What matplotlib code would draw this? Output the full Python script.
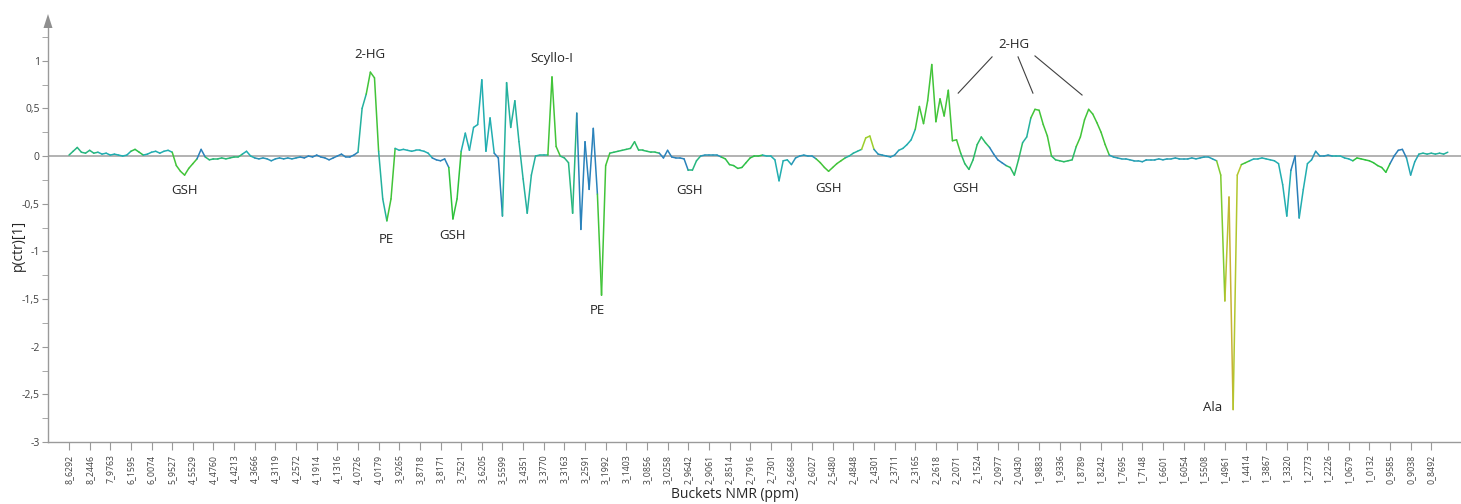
import numpy as np
import matplotlib
matplotlib.use("Agg")
import matplotlib.pyplot as plt
from matplotlib.collections import LineCollection
from matplotlib.colors import LinearSegmentedColormap
from matplotlib.patches import Polygon

plt.rcParams['font.family'] = ['Open Sans', 'DejaVu Sans']

# Bucket labels (ppm) shown every 5th plotted bucket
tick_labels = [
    "8_6292", "8_2446", "7_9763", "6_1595", "6_0074", "5_9527", "4_5529", "4_4760",
    "4_4213", "4_3666", "4_3119", "4_2572", "4_1914", "4_1316", "4_0726", "4_0179",
    "3_9265", "3_8718", "3_8171", "3_7521", "3_6205", "3_5599", "3_4351", "3_3770",
    "3_3163", "3_2591", "3_1992", "3_1403", "3_0856", "3_0258", "2_9642", "2_9061",
    "2_8514", "2_7916", "2_7301", "2_6668", "2_6027", "2_5480", "2_4848", "2_4301",
    "2_3711", "2_3165", "2_2618", "2_2071", "2_1524", "2_0977", "2_0430", "1_9883",
    "1_9336", "1_8789", "1_8242", "1_7695", "1_7148", "1_6601", "1_6054", "1_5508",
    "1_4961", "1_4414", "1_3867", "1_3320", "1_2773", "1_2226", "1_0679", "1_0132",
    "0_9585", "0_9038", "0_8492",
]
tick_step = 5

# Loading p(ctr)[1] for each plotted bucket
loading = [
    0.01, 0.05, 0.09, 0.04, 0.03, 0.06, 0.03, 0.04, 0.02, 0.03,
    0.01, 0.02, 0.01, 0.00, 0.01, 0.05, 0.07, 0.04, 0.01, 0.02,
    0.04, 0.05, 0.03, 0.05, 0.06, 0.04, -0.10, -0.16, -0.20, -0.13,
    -0.08, -0.03, 0.07, -0.01, -0.04, -0.03, -0.03, -0.02, -0.03, -0.02,
    -0.01, -0.01, 0.02, 0.05, 0.00, -0.02, -0.03, -0.02, -0.03, -0.05,
    -0.03, -0.02, -0.03, -0.02, -0.03, -0.02, -0.01, -0.02, 0.00, -0.01,
    0.01, -0.01, -0.02, -0.04, -0.02, 0.00, 0.02, -0.01, -0.01, 0.01,
    0.04, 0.50, 0.65, 0.88, 0.82, 0.05, -0.45, -0.68, -0.45, 0.08,
    0.06, 0.07, 0.06, 0.05, 0.06, 0.06, 0.05, 0.03, -0.02, -0.04,
    -0.05, -0.03, -0.12, -0.66, -0.45, 0.05, 0.24, 0.06, 0.30, 0.33,
    0.80, 0.05, 0.40, 0.03, -0.02, -0.63, 0.77, 0.30, 0.58, 0.15,
    -0.24, -0.60, -0.20, 0.00, 0.01, 0.01, 0.01, 0.83, 0.10, 0.00,
    -0.02, -0.07, -0.60, 0.45, -0.77, 0.15, -0.35, 0.29, -0.40, -1.46,
    -0.10, 0.03, 0.04, 0.05, 0.06, 0.07, 0.08, 0.15, 0.06, 0.06,
    0.05, 0.04, 0.04, 0.03, -0.02, 0.06, -0.01, -0.02, -0.02, -0.03,
    -0.15, -0.15, -0.05, 0.00, 0.01, 0.01, 0.01, 0.01, -0.01, -0.03,
    -0.09, -0.10, -0.13, -0.12, -0.07, -0.02, 0.00, 0.00, 0.01, 0.00,
    0.00, -0.04, -0.26, -0.05, -0.04, -0.09, -0.02, 0.00, 0.01, 0.00,
    0.00, -0.03, -0.07, -0.12, -0.16, -0.12, -0.08, -0.05, -0.02, 0.00,
    0.03, 0.05, 0.07, 0.19, 0.21, 0.07, 0.02, 0.01, 0.00, -0.01,
    0.01, 0.06, 0.08, 0.12, 0.17, 0.28, 0.52, 0.34, 0.58, 0.96,
    0.36, 0.60, 0.42, 0.69, 0.16, 0.17, 0.03, -0.08, -0.14, -0.04,
    0.12, 0.20, 0.14, 0.09, 0.02, -0.04, -0.07, -0.10, -0.12, -0.20,
    -0.04, 0.14, 0.20, 0.40, 0.49, 0.48, 0.33, 0.21, 0.00, -0.04,
    -0.05, -0.06, -0.05, -0.04, 0.10, 0.20, 0.38, 0.49, 0.44, 0.35,
    0.25, 0.12, 0.01, -0.01, -0.02, -0.03, -0.03, -0.04, -0.05, -0.05,
    -0.06, -0.04, -0.04, -0.04, -0.03, -0.04, -0.03, -0.03, -0.02, -0.03,
    -0.03, -0.03, -0.02, -0.03, -0.02, -0.01, -0.01, -0.03, -0.05, -0.20,
    -1.52, -0.43, -2.66, -0.20, -0.09, -0.07, -0.05, -0.03, -0.03, -0.02,
    -0.03, -0.04, -0.05, -0.08, -0.30, -0.63, -0.15, 0.00, -0.65, -0.35,
    -0.08, -0.04, 0.05, 0.00, 0.00, 0.01, 0.00, 0.00, 0.00, -0.02,
    -0.03, -0.05, -0.02, -0.03, -0.04, -0.05, -0.07, -0.10, -0.12, -0.17,
    -0.08, 0.00, 0.06, 0.07, -0.02, -0.20, -0.06, 0.02, 0.03, 0.02,
    0.03, 0.02, 0.03, 0.02, 0.04,
]

# Colour weight (correlation) per run of buckets: run start index and level
tone_starts = [0, 7, 15, 18, 25, 31, 33, 42, 45, 56,
               70, 72, 75, 77, 79, 88, 92, 95, 103, 105,
               116, 119, 123, 128, 131, 143, 150, 153, 158, 168,
               175, 181, 188, 192, 195, 201, 205, 216, 223, 227,
               231, 233, 238, 244, 252, 278, 280, 281, 282, 284,
               286, 296, 298, 301, 306, 311, 320, 324, 327, 334]
tone_levels = [0.5, 0.42, 0.6, 0.42, 0.65, 0.3, 0.52, 0.42, 0.35, 0.3,
               0.45, 0.65, 0.45, 0.65, 0.42, 0.3, 0.62, 0.42, 0.3, 0.45,
               0.65, 0.5, 0.3, 0.65, 0.55, 0.3, 0.5, 0.35, 0.6, 0.42,
               0.35, 0.65, 0.45, 0.8, 0.35, 0.42, 0.65, 0.55, 0.3, 0.55,
               0.45, 0.65, 0.55, 0.65, 0.38, 0.75, 0.88, 0.95, 0.86, 0.65,
               0.42, 0.25, 0.42, 0.35, 0.42, 0.62, 0.25, 0.4, 0.45, 0.65]

# Metabolite labels: text, bucket position, loading position
peak_labels = [
    ("GSH", 27.9, -0.36), ("2-HG", 72.9, 1.06), ("PE", 77.0, -0.88),
    ("GSH", 92.8, -0.83), ("Scyllo-I", 117.0, 1.02), ("PE", 128.1, -1.62),
    ("GSH", 150.4, -0.36), ("GSH", 184.1, -0.34), ("GSH", 217.1, -0.34),
    ("2-HG", 228.9, 1.175), ("Ala", 277.1, -2.64),
]
hg_leaders = [((223.6, 1.04), (215.4, 0.66)),
              ((229.9, 1.04), (233.5, 0.66)),
              ((234.0, 1.05), (245.4, 0.64))]

W, H = 1461, 504
fig = plt.figure(figsize=(W / 100, H / 100), dpi=100)
ax = fig.add_axes([48 / W, 62 / H, 1 - 48 / W, (442 - 27) / H])

x = np.arange(len(loading))
y = np.asarray(loading)
tone = np.asarray(tone_levels)[np.searchsorted(tone_starts, x[:-1], side='right') - 1]

cmap = LinearSegmentedColormap.from_list(
    "load", [(0.0, "#2b6fb0"), (0.3, "#2a82bb"), (0.42, "#22aeb0"),
             (0.62, "#2fc23c"), (0.82, "#a8d02a"), (1.0, "#d4a83a")])

pts = np.column_stack([x, y])
segs = np.stack([pts[:-1], pts[1:]], axis=1)
lc = LineCollection(segs, colors=cmap(tone), linewidths=1.1, zorder=3,
                    capstyle='round', joinstyle='round')
ax.add_collection(lc)

ax.axhline(0, color="#a6a6a6", lw=1.2, zorder=1)

ax.set_xlim(-5.09, 337.2)
ax.set_ylim(-3, (156 - 27) / 95.3)

for s in ("top", "right"):
    ax.spines[s].set_visible(False)
for s in ("left", "bottom"):
    ax.spines[s].set_color("#9a9a9a")
    ax.spines[s].set_linewidth(1.0)

yt = np.arange(-3, 1.01, 0.5)
ax.set_yticks(yt)
ax.set_yticklabels([("%g" % v).replace(".", ",") for v in yt])
ax.set_yticks(np.arange(-3, 1.3, 0.25), minor=True)
ax.tick_params(axis="y", which="both", direction="out", length=4, color="#9a9a9a",
               labelsize=7.5, labelcolor="#404040", pad=2)

ax.set_xticks(np.arange(len(tick_labels)) * tick_step)
ax.set_xticklabels(tick_labels, rotation=90, fontsize=6.3, color="#404040")
ax.tick_params(axis="x", direction="out", length=6, color="#9a9a9a", pad=3)

# Arrow head on top of the y axis
tri = [(48 / 100, (H - 14) / 100), (43.5 / 100, (H - 28) / 100), (52.5 / 100, (H - 28) / 100)]
fig.add_artist(Polygon(tri, closed=True, transform=fig.dpi_scale_trans,
                       facecolor="#8f8f8f", edgecolor="none"))

for txt, bx, by in peak_labels:
    ax.text(bx, by, txt, ha="center", va="center", fontsize=9.5, color="#262626", zorder=4)
for (x0, y0), (x1, y1) in hg_leaders:
    ax.plot([x0, x1], [y0, y1], color="#404040", lw=0.8, zorder=4)

fig.text(18 / W, 1 - 245 / H, "p(ctr)[1]", rotation=90, ha="center", va="center",
         fontsize=10, color="#262626")
fig.text(735 / W, 1 - 494 / H, "Buckets NMR (ppm)", ha="center", va="center",
         fontsize=10, color="#262626")

fig.savefig("out.png", dpi=100, facecolor="white")
